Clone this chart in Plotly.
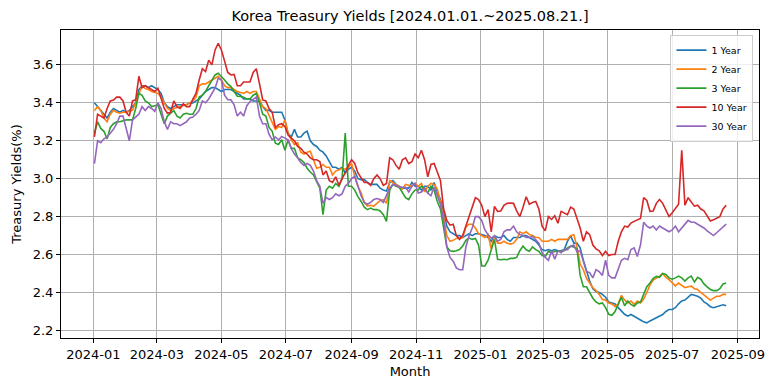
import pandas as pd
import plotly.graph_objects as go

# sample dates (every 3 days, 2024-01-02 .. 2025-08-21)
dates = pd.date_range("2024-01-02", periods=200, freq="3D")

y1 = [3.40, 3.38, 3.36, 3.34, 3.32, 3.35, 3.37, 3.36, 3.35, 3.36, 3.35, 3.36, 3.38, 3.40, 3.47, 3.49, 3.49, 3.48, 3.49, 3.48, 3.47, 3.45, 3.40,
      3.38, 3.37, 3.38, 3.39, 3.39, 3.39, 3.39, 3.40, 3.40, 3.41, 3.42, 3.44, 3.46, 3.47, 3.48, 3.48, 3.47, 3.46, 3.47, 3.47, 3.47, 3.46, 3.45, 3.44, 3.42,
      3.42, 3.42, 3.41, 3.41, 3.41, 3.38, 3.36, 3.36, 3.35, 3.35, 3.35, 3.35, 3.31, 3.24, 3.22, 3.26, 3.22, 3.22, 3.24, 3.25, 3.20, 3.18, 3.17, 3.15, 3.14,
      3.12, 3.09, 3.06, 3.06, 3.05, 3.06, 3.03, 3.05, 3.06, 3.04, 3.00, 2.995, 2.995, 2.98, 2.97, 2.97, 2.97, 2.95, 2.94, 2.935, 2.98, 2.99, 2.97, 2.96, 2.95,
      2.95, 2.95, 2.98, 2.96, 2.96, 2.94, 2.96, 2.96, 2.94, 2.98, 2.93, 2.89, 2.82, 2.75, 2.72, 2.71, 2.70, 2.70, 2.69, 2.70, 2.71, 2.70, 2.71, 2.71, 2.705,
      2.70, 2.69, 2.67, 2.70, 2.69, 2.69, 2.70, 2.68, 2.67, 2.69, 2.69, 2.69, 2.70, 2.70, 2.69, 2.68, 2.67, 2.65, 2.626, 2.62, 2.626, 2.62, 2.626, 2.62, 2.62, 2.626,
      2.67, 2.70, 2.66, 2.66, 2.635, 2.57, 2.51, 2.46, 2.42, 2.405, 2.40, 2.39, 2.375, 2.35, 2.345, 2.34, 2.32, 2.30, 2.285, 2.275, 2.284, 2.275, 2.267,
      2.255, 2.245, 2.24, 2.25, 2.258, 2.265, 2.275, 2.284, 2.30, 2.31, 2.31, 2.32, 2.34, 2.355, 2.36, 2.375, 2.39, 2.385, 2.38, 2.37, 2.35, 2.34, 2.325, 2.32, 2.325, 2.328, 2.335, 2.33]

y2 = [3.36, 3.38, 3.36, 3.32, 3.30, 3.34, 3.36, 3.35, 3.345, 3.35, 3.35, 3.355, 3.36, 3.40, 3.45, 3.49, 3.475, 3.47, 3.46, 3.455, 3.45, 3.43, 3.40,
      3.37, 3.36, 3.37, 3.375, 3.38, 3.385, 3.39, 3.40, 3.41, 3.43, 3.49, 3.50, 3.50, 3.51, 3.52, 3.53, 3.54, 3.52, 3.49, 3.48, 3.48, 3.47, 3.46, 3.455, 3.45,
      3.46, 3.45, 3.46, 3.46, 3.42, 3.38, 3.37, 3.33, 3.30, 3.26, 3.275, 3.27, 3.31, 3.24, 3.205, 3.18, 3.19, 3.14, 3.13, 3.14, 3.145, 3.10, 3.055, 3.06, 3.075,
      3.06, 3.06, 3.02, 3.04, 3.047, 3.055, 3.05, 3.06, 3.08, 3.01, 2.96, 2.925, 2.875, 2.855, 2.86, 2.855, 2.87, 2.885, 2.89, 2.87, 2.99, 2.98, 2.97, 2.96, 2.945,
      2.97, 2.965, 2.96, 2.975, 2.96, 2.975, 2.93, 2.96, 2.975, 2.97, 2.945, 2.875, 2.80, 2.70, 2.67, 2.675, 2.685, 2.687, 2.69, 2.745, 2.76, 2.76, 2.74, 2.71, 2.70,
      2.69, 2.705, 2.63, 2.70, 2.66, 2.66, 2.67, 2.66, 2.655, 2.66, 2.68, 2.72, 2.71, 2.72, 2.705, 2.70, 2.69, 2.69, 2.67, 2.67, 2.67, 2.68, 2.67, 2.68, 2.68, 2.68,
      2.68, 2.70, 2.705, 2.64, 2.55, 2.52, 2.475, 2.45, 2.425, 2.41, 2.39, 2.363, 2.36, 2.345, 2.34, 2.325, 2.34, 2.385, 2.36, 2.345, 2.355, 2.338, 2.355,
      2.345, 2.365, 2.40, 2.44, 2.465, 2.475, 2.486, 2.50, 2.48, 2.468, 2.45, 2.435, 2.45, 2.435, 2.425, 2.43, 2.433, 2.42, 2.416, 2.40, 2.385, 2.375, 2.36, 2.37, 2.38, 2.38, 2.39, 2.39]

y3 = [3.24, 3.30, 3.265, 3.25, 3.21, 3.27, 3.29, 3.30, 3.30, 3.305, 3.31, 3.31, 3.31, 3.37, 3.45, 3.44, 3.41, 3.40, 3.38, 3.385, 3.39, 3.34, 3.29,
      3.33, 3.345, 3.36, 3.33, 3.32, 3.34, 3.345, 3.34, 3.34, 3.37, 3.43, 3.44, 3.46, 3.49, 3.52, 3.547, 3.556, 3.54, 3.52, 3.50, 3.486, 3.46, 3.435, 3.433, 3.43,
      3.42, 3.42, 3.44, 3.45, 3.40, 3.34, 3.33, 3.27, 3.25, 3.187, 3.18, 3.205, 3.15, 3.205, 3.16, 3.16, 3.11, 3.10, 3.085, 3.055, 3.035, 3.02, 2.985, 2.95, 2.81,
      2.94, 2.96, 2.95, 2.975, 2.96, 3.00, 3.24, 2.96, 2.96, 2.94, 2.905, 2.88, 2.85, 2.837, 2.845, 2.837, 2.837, 2.83, 2.81, 2.775, 2.94, 2.97, 2.96, 2.955, 2.93,
      2.90, 2.89, 2.92, 2.94, 2.94, 2.96, 2.95, 2.925, 2.96, 2.94, 2.88, 2.84, 2.75, 2.64, 2.62, 2.617, 2.62, 2.626, 2.645, 2.675, 2.687, 2.68, 2.685, 2.65, 2.54,
      2.54, 2.57, 2.62, 2.68, 2.575, 2.573, 2.575, 2.573, 2.58, 2.58, 2.585, 2.62, 2.645, 2.625, 2.617, 2.64, 2.626, 2.617, 2.595, 2.59, 2.617, 2.61, 2.617, 2.617, 2.617, 2.62,
      2.635, 2.644, 2.64, 2.63, 2.49, 2.43, 2.43, 2.40, 2.37, 2.35, 2.34, 2.345, 2.32, 2.285, 2.28, 2.30, 2.34, 2.375, 2.33, 2.355, 2.337, 2.328, 2.345,
      2.35, 2.39, 2.43, 2.45, 2.475, 2.485, 2.48, 2.50, 2.495, 2.477, 2.47, 2.477, 2.486, 2.477, 2.46, 2.477, 2.486, 2.455, 2.48, 2.47, 2.445, 2.43, 2.416, 2.41, 2.41, 2.42, 2.445, 2.45]

y10 = [3.22, 3.34, 3.33, 3.32, 3.37, 3.41, 3.415, 3.43, 3.43, 3.41, 3.35, 3.33, 3.41, 3.416, 3.54, 3.48, 3.49, 3.48, 3.47, 3.46, 3.477, 3.42, 3.37,
       3.345, 3.35, 3.41, 3.38, 3.37, 3.395, 3.38, 3.38, 3.42, 3.45, 3.52, 3.58, 3.565, 3.625, 3.60, 3.679, 3.714, 3.679, 3.62, 3.56, 3.547, 3.55, 3.49, 3.49, 3.51,
       3.51, 3.51, 3.56, 3.58, 3.50, 3.415, 3.41, 3.37, 3.35, 3.27, 3.285, 3.29, 3.275, 3.23, 3.214, 3.20, 3.17, 3.16, 3.14, 3.13, 3.11, 3.10, 3.10, 3.09, 3.02,
       3.04, 2.99, 2.98, 3.01, 2.965, 3.00, 3.03, 3.07, 3.10, 3.08, 3.03, 3.005, 2.98, 2.98, 2.965, 3.00, 3.02, 3.00, 2.965, 2.975, 3.11, 3.10, 3.07, 3.05, 3.10,
       3.11, 3.08, 3.09, 3.13, 3.11, 3.15, 3.10, 3.01, 3.075, 3.08, 3.035, 2.99, 2.84, 2.78, 2.755, 2.76, 2.70, 2.68, 2.70, 2.75, 2.80, 2.86, 2.90, 2.89, 2.86,
       2.80, 2.837, 2.72, 2.854, 2.828, 2.83, 2.86, 2.87, 2.872, 2.87, 2.83, 2.80, 2.85, 2.905, 2.865, 2.875, 2.88, 2.84, 2.75, 2.725, 2.80, 2.785, 2.805, 2.765, 2.828, 2.82,
       2.81, 2.85, 2.84, 2.79, 2.74, 2.67, 2.72, 2.705, 2.65, 2.63, 2.62, 2.595, 2.617, 2.595, 2.60, 2.60, 2.67, 2.72, 2.75, 2.745, 2.766, 2.775, 2.784,
       2.79, 2.90, 2.885, 2.828, 2.83, 2.87, 2.89, 2.87, 2.83, 2.80, 2.82, 2.845, 2.865, 3.15, 2.86, 2.90, 2.88, 2.855, 2.86, 2.84, 2.83, 2.80, 2.777, 2.784, 2.793, 2.80, 2.84, 2.86]

y30 = [3.08, 3.20, 3.19, 3.21, 3.22, 3.24, 3.26, 3.29, 3.33, 3.33, 3.26, 3.20, 3.31, 3.325, 3.34, 3.38, 3.36, 3.38, 3.37, 3.355, 3.40, 3.37, 3.30,
       3.26, 3.30, 3.29, 3.29, 3.28, 3.29, 3.30, 3.32, 3.325, 3.34, 3.36, 3.41, 3.40, 3.42, 3.45, 3.477, 3.53, 3.52, 3.44, 3.416, 3.416, 3.39, 3.33, 3.35, 3.33,
       3.385, 3.407, 3.42, 3.43, 3.33, 3.29, 3.29, 3.235, 3.205, 3.22, 3.205, 3.223, 3.214, 3.205, 3.16, 3.13, 3.11, 3.085, 3.07, 3.08, 3.07, 3.04, 2.99, 2.96, 2.87,
       2.90, 2.89, 2.90, 2.92, 2.91, 2.92, 2.96, 2.975, 3.00, 3.012, 2.96, 2.91, 2.875, 2.865, 2.875, 2.89, 2.895, 2.89, 2.875, 2.91, 2.95, 2.97, 2.965, 2.955, 2.955,
       2.955, 2.93, 2.96, 2.975, 2.925, 2.93, 2.95, 2.924, 2.91, 2.955, 2.91, 2.865, 2.78, 2.64, 2.585, 2.565, 2.53, 2.52, 2.52, 2.64, 2.70, 2.74, 2.80, 2.80, 2.78,
       2.73, 2.705, 2.687, 2.696, 2.67, 2.68, 2.72, 2.73, 2.73, 2.75, 2.72, 2.705, 2.70, 2.69, 2.69, 2.695, 2.68, 2.66, 2.61, 2.585, 2.57, 2.62, 2.575, 2.62, 2.61, 2.626,
       2.626, 2.644, 2.65, 2.615, 2.62, 2.57, 2.51, 2.505, 2.477, 2.52, 2.51, 2.49, 2.57, 2.49, 2.477, 2.477, 2.53, 2.57, 2.58, 2.573, 2.626, 2.635, 2.59,
       2.65, 2.77, 2.75, 2.74, 2.75, 2.73, 2.75, 2.74, 2.73, 2.72, 2.73, 2.75, 2.72, 2.74, 2.766, 2.78, 2.77, 2.77, 2.76, 2.75, 2.74, 2.725, 2.71, 2.70, 2.715, 2.73, 2.75, 2.76]

series_names = ["1 Year", "2 Year", "3 Year", "10 Year", "30 Year"]
series_values = [y1, y2, y3, y10, y30]
colors = ["#1f77b4", "#ff7f0e", "#2ca02c", "#d62728", "#9467bd"]

xtick_vals = ["2024-01-01", "2024-03-01", "2024-05-01", "2024-07-01", "2024-09-01", "2024-11-01",
              "2025-01-01", "2025-03-01", "2025-05-01", "2025-07-01", "2025-09-01"]
xtick_text = ["2024-01", "2024-03", "2024-05", "2024-07", "2024-09", "2024-11",
              "2025-01", "2025-03", "2025-05", "2025-07", "2025-09"]
ytick_vals = [2.2, 2.4, 2.6, 2.8, 3.0, 3.2, 3.4, 3.6]

FONT = "DejaVu Sans"

fig = go.Figure()
for name, vals, c in zip(series_names, series_values, colors):
    fig.add_trace(go.Scatter(x=dates, y=vals, mode="lines", name=name,
                             line=dict(color=c, width=1.6)))

fig.update_layout(
    width=777, height=391,
    margin=dict(l=61, r=18, t=30, b=53),
    paper_bgcolor="white", plot_bgcolor="white",
    font=dict(family=FONT, size=13, color="black"),
    title=dict(text="Korea Treasury Yields [2024.01.01.~2025.08.21.]",
               x=0.5, xref="paper", xanchor="center",
               y=1 - 16 / 391, yref="container", yanchor="middle",
               font=dict(family=FONT, size=14.5, color="black")),
    legend=dict(x=0.992, y=0.985, xanchor="right", yanchor="top",
                bgcolor="rgba(255,255,255,0.8)", bordercolor="#cccccc", borderwidth=1,
                font=dict(family=FONT, size=9.5), itemwidth=30, tracegroupgap=0),
    showlegend=True,
)
fig.update_xaxes(
    type="date", range=["2023-12-01 10:00", "2025-09-21"],
    tickvals=xtick_vals, ticktext=xtick_text,
    showgrid=True, gridcolor="#b0b0b0", gridwidth=1,
    showline=True, linecolor="black", linewidth=1, mirror=True,
    ticks="outside", ticklen=4, tickcolor="black",
    zeroline=False,
    title=dict(text="Month", standoff=6, font=dict(family=FONT, size=13)),
)
fig.update_yaxes(
    range=[2.16, 3.784], tickvals=ytick_vals, tickformat=".1f",
    showgrid=True, gridcolor="#b0b0b0", gridwidth=1,
    showline=True, linecolor="black", linewidth=1, mirror=True,
    ticks="outside", ticklen=4, tickcolor="black",
    zeroline=False,
    title=dict(text="Treasury Yields(%)", standoff=8, font=dict(family=FONT, size=13)),
)

fig.write_html("out.html", config={"displayModeBar": False},
               post_script="document.body.style.margin='0';")
